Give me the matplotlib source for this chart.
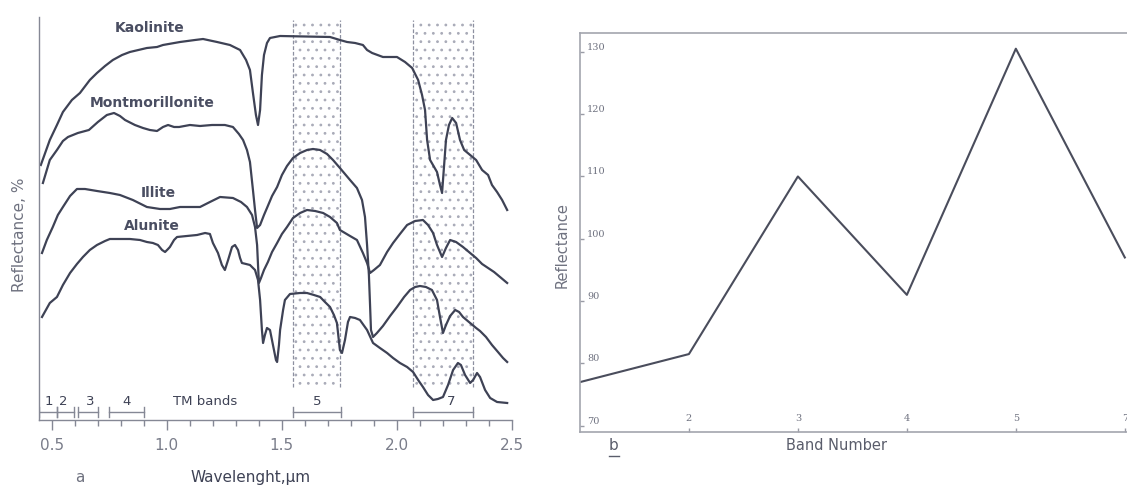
import matplotlib
matplotlib.use("Agg")
import matplotlib.pyplot as plt
from matplotlib.patches import Rectangle
from matplotlib.lines import Line2D

plt.rcParams["hatch.linewidth"] = 0.8

# ---- panel a: clay mineral spectra (relative reflectance, curves are offset) ----
kaol_wl = [0.453, 0.492, 0.523, 0.549, 0.588, 0.623, 0.666, 0.697, 0.732, 0.766, 0.806, 0.840,
           0.914, 0.958, 0.984, 1.058, 1.123, 1.158, 1.219, 1.275, 1.319, 1.345, 1.362, 1.375,
           1.388, 1.397, 1.406, 1.414, 1.423, 1.436, 1.449, 1.493, 1.710, 1.753, 1.784, 1.819,
           1.853, 1.871, 1.893, 1.940, 2.001, 2.036, 2.067, 2.093, 2.110, 2.123, 2.132, 2.145,
           2.175, 2.188, 2.197, 2.206, 2.214, 2.227, 2.241, 2.258, 2.275, 2.293, 2.319, 2.345,
           2.371, 2.397, 2.414, 2.436, 2.458, 2.480]
kaol_r = [63.75, 70, 73.75, 77, 80, 81.75, 85, 86.75, 88.5, 90, 91.25, 92,
          93, 93.25, 93.75, 94.5, 95, 95.25, 94.5, 93.75, 92.5, 90, 87.5, 81.75,
          76.25, 73.75, 77.5, 86.25, 91.25, 94.25, 95.5, 96, 95.75, 95, 94.5, 94.25,
          93.75, 92.5, 91.75, 90.75, 90.75, 89.5, 88, 85, 81.25, 77.5, 70, 65,
          62, 58.75, 56.75, 63.75, 70, 73.75, 75.5, 74.25, 70, 67.5, 66.25, 65,
          62.5, 61.25, 58.75, 57, 55, 52.5]

mont_wl = [0.462, 0.492, 0.523, 0.549, 0.571, 0.614, 0.662, 0.701, 0.740, 0.771, 0.797, 0.819,
           0.862, 0.897, 0.927, 0.958, 0.984, 1.006, 1.032, 1.054, 1.101, 1.145, 1.197, 1.253,
           1.288, 1.314, 1.332, 1.349, 1.362, 1.375, 1.384, 1.393, 1.406, 1.423, 1.436, 1.458,
           1.480, 1.501, 1.523, 1.549, 1.580, 1.610, 1.636, 1.667, 1.697, 1.723, 1.753, 1.797,
           1.827, 1.849, 1.862, 1.871, 1.879, 1.884, 1.888, 1.897, 1.914, 1.940, 1.971, 2.001,
           2.032, 2.058, 2.080, 2.101, 2.127, 2.153, 2.175, 2.188, 2.201, 2.214, 2.232, 2.254,
           2.271, 2.288, 2.319, 2.345, 2.362, 2.388, 2.414, 2.440, 2.462, 2.480]
mont_r = [59.25, 65, 67.5, 69.75, 70.75, 71.75, 72.5, 74.5, 76.25, 76.75, 76, 75,
          73.75, 73, 72.5, 72.25, 73.25, 73.75, 73.25, 73.25, 73.75, 73.5, 73.75, 73.75,
          73.25, 71.5, 70, 67.5, 64.5, 57.5, 52.5, 48, 48.75, 51.25, 53, 56,
          58.25, 61.25, 63.5, 65.5, 66.75, 67.5, 67.75, 67.5, 66.5, 65, 63, 60,
          58, 55, 50.75, 43.75, 36.25, 28.75, 22.5, 20.75, 21.75, 23.5, 26, 28.25,
          30.75, 32.5, 33.25, 33.5, 33.25, 32.5, 30, 25.75, 21.75, 23.75, 26, 27.5,
          27, 25.75, 24.25, 23, 22.25, 20.75, 18.75, 17, 15.5, 14.5]

illi_wl = [0.458, 0.479, 0.505, 0.527, 0.549, 0.580, 0.610, 0.645, 0.697, 0.753, 0.797, 0.853,
           0.914, 0.971, 1.014, 1.058, 1.101, 1.145, 1.188, 1.232, 1.288, 1.323, 1.349, 1.371,
           1.384, 1.393, 1.397, 1.401, 1.410, 1.423, 1.440, 1.458, 1.480, 1.501, 1.523, 1.549,
           1.580, 1.610, 1.645, 1.680, 1.710, 1.740, 1.753, 1.797, 1.827, 1.853, 1.871, 1.884,
           1.901, 1.927, 1.958, 1.984, 2.014, 2.045, 2.080, 2.114, 2.136, 2.158, 2.175, 2.197,
           2.214, 2.232, 2.258, 2.288, 2.319, 2.345, 2.371, 2.397, 2.423, 2.449, 2.480]
illi_r = [41.75, 45, 48.25, 51.25, 53.25, 56, 57.75, 57.75, 57.25, 56.75, 56.25, 55,
          53.25, 52.75, 52.75, 53.25, 53.25, 53.25, 54.5, 55.75, 55.5, 54.5, 53.25, 51.25,
          48.25, 43.75, 38.75, 34.25, 35.5, 37.5, 39.5, 42, 44.25, 46.5, 48.25, 50.5,
          51.75, 52.5, 52.25, 51.75, 50.75, 49.25, 47.5, 46, 45, 41.75, 39.25, 36.75,
          37.5, 38.75, 42, 44.25, 46.5, 48.75, 49.75, 50, 48.75, 46.75, 43.75, 40.75,
          43, 45, 44.5, 43.25, 41.75, 40.5, 39, 38, 37, 35.75, 34.25]

alun_wl = [0.458, 0.492, 0.523, 0.549, 0.580, 0.610, 0.636, 0.666, 0.697, 0.732, 0.753, 0.797,
           0.840, 0.884, 0.914, 0.940, 0.962, 0.980, 0.993, 1.006, 1.014, 1.032, 1.045, 1.088,
           1.132, 1.167, 1.188, 1.201, 1.223, 1.240, 1.253, 1.267, 1.284, 1.297, 1.310, 1.319,
           1.327, 1.345, 1.362, 1.384, 1.397, 1.406, 1.414, 1.419, 1.427, 1.436, 1.449, 1.462,
           1.475, 1.480, 1.488, 1.493, 1.506, 1.514, 1.536, 1.580, 1.610, 1.640, 1.667, 1.688,
           1.710, 1.727, 1.740, 1.753, 1.762, 1.775, 1.788, 1.797, 1.819, 1.840, 1.871, 1.897,
           1.927, 1.958, 1.984, 2.014, 2.045, 2.071, 2.093, 2.114, 2.136, 2.158, 2.179, 2.201,
           2.223, 2.245, 2.266, 2.279, 2.297, 2.319, 2.332, 2.349, 2.362, 2.384, 2.406, 2.436,
           2.480]
alun_r = [25.75, 29.25, 30.75, 33.75, 36.75, 39, 40.75, 42.5, 43.75, 44.75, 45.25, 45.25,
          45.25, 45, 44.5, 44.25, 43.75, 42.5, 42, 42.75, 43.25, 45, 45.75, 46,
          46.25, 46.75, 46.5, 44.25, 41.75, 38.75, 37.5, 40, 43.25, 43.75, 42.5, 40.5,
          39.25, 39, 38.75, 37.5, 35, 30, 22.5, 19.25, 21.25, 23, 22.5, 18.75,
          15, 14.5, 18.75, 22.5, 27.5, 30, 31.5, 31.75, 31.75, 31.25, 30.75, 29.5,
          28.25, 26.25, 24.25, 17.5, 16.75, 20, 24.5, 25.75, 25.5, 25, 22.5, 19.25,
          18, 16.75, 15.5, 14.25, 13.25, 12, 10, 8.25, 6.25, 5, 5.25, 5.75,
          8.75, 12.5, 14.25, 13.75, 11.25, 9.25, 10, 11.75, 10.75, 7.5, 5.5, 4.5,
          4.25]

mineral_names = ["Kaolinite", "Montmorillonite", "Illite", "Alunite"]
label_wl = [0.927, 0.936, 0.962, 0.936]
label_r = [98, 79.25, 56.75, 48.5]

# Landsat TM bands: start, end, label
tm_start = [0.446, 0.522, 0.613, 0.749, 1.548, 2.070]
tm_end = [0.522, 0.597, 0.700, 0.900, 1.758, 2.333]
tm_names = ["1", "2", "3", "4", "5", "7"]
tm_label_wl = [0.488, 0.549, 0.666, 0.827, 1.653, 2.236]
shaded_bands = [(1.548, 1.752), (2.070, 2.333)]

# ---- panel b: reflectance by band number ----
band_labels = ["1", "2", "3", "4", "5", "7"]
band_refl = [77, 81.5, 110, 91, 130.5, 97]

ink = "#3e4255"
grey = "#858895"

fig = plt.figure(figsize=(11.27, 4.87), dpi=100)

# panel a
ax = fig.add_axes([0.0346, 0.1376, 0.4195, 0.8275])
for x0, x1 in shaded_bands:
    ax.add_patch(Rectangle((x0, 8.25), x1 - x0, 91.75, facecolor="none",
                           edgecolor="#a9abb8", linewidth=0, hatch=".."))
    for xe in (x0, x1):
        ax.plot([xe, xe], [8.25, 100], color="#8d90a0", lw=0.9, ls=(0, (3, 1.5)))

for wl, r in [(kaol_wl, kaol_r), (mont_wl, mont_r), (illi_wl, illi_r), (alun_wl, alun_r)]:
    ax.plot(wl, r, color=ink, lw=1.6, solid_joinstyle="round")
for name, x, y in zip(mineral_names, label_wl, label_r):
    ax.text(x, y, name, ha="center", va="center", fontsize=10, fontweight="bold",
            color="#4a4e62")

for x0, x1 in zip(tm_start, tm_end):
    ax.plot([x0, x1], [2, 2], color=grey, lw=1)
    ax.plot([x0, x0], [0.8, 3.2], color=grey, lw=1)
    ax.plot([x1, x1], [0.8, 3.2], color=grey, lw=1)
for name, x in zip(tm_names, tm_label_wl):
    ax.text(x, 4.6, name, ha="center", va="center", fontsize=9.5, color=ink)
ax.text(1.166, 4.6, "TM bands", ha="center", va="center", fontsize=9.5, color=ink)

ax.set_xlim(0.445, 2.5)
ax.set_ylim(0, 100.75)
ax.set_yticks([])
ax.set_xticks([0.5, 1.0, 1.5, 2.0, 2.5])
ax.set_xticklabels(["0.5", "1.0", "1.5", "2.0", "2.5"])
ax.set_xticks([0.6, 0.7, 0.8, 0.9, 1.1, 1.2, 1.3, 1.4, 1.6, 1.7, 1.8, 1.9,
               2.1, 2.2, 2.3, 2.4], minor=True)
ax.tick_params(axis="x", which="major", length=7, width=1, color=grey,
               labelsize=11, labelcolor="#7a7d8a", pad=6)
ax.tick_params(axis="x", which="minor", length=4, width=1, color=grey)
for s in ("top", "right"):
    ax.spines[s].set_visible(False)
for s in ("left", "bottom"):
    ax.spines[s].set_color(grey)
    ax.spines[s].set_linewidth(1)

fig.text(0.0177, 0.517, "Reflectance, %", rotation=90, ha="center", va="center",
         fontsize=11, color="#6f7280")
fig.text(0.222, 0.0185, "Wavelenght,\u00b5m", ha="center", va="center",
         fontsize=11, color=ink)
fig.text(0.071, 0.0185, "a", ha="center", va="center", fontsize=11, color="#6f7280")

# panel b
bx = fig.add_axes([0.5146, 0.113, 0.4854, 0.819])
bx.plot(range(len(band_refl)), band_refl, color="#4a4d5c", lw=1.5)
bx.set_xlim(0, 5.02)
bx.set_ylim(69, 133)
bx.set_xticks([1, 2, 3, 4, 5])
bx.set_xticklabels(band_labels[1:])
bx.set_yticks([70, 80, 90, 100, 110, 120, 130])
bx.tick_params(axis="y", direction="in", length=3, width=1, color="#9a9ca6",
               labelsize=7, labelcolor="#6f7280", pad=-5)
bx.tick_params(axis="x", direction="in", length=3, width=1, color="#9a9ca6",
               labelsize=7, labelcolor="#6f7280", pad=-13)
for lab in bx.get_yticklabels():
    lab.set_horizontalalignment("left")
    lab.set_verticalalignment("bottom")
    lab.set_family("DejaVu Serif")
for lab in bx.get_xticklabels():
    lab.set_family("DejaVu Serif")
bx.spines["right"].set_visible(False)
for s in ("top", "left", "bottom"):
    bx.spines[s].set_color("#a3a5ae")
    bx.spines[s].set_linewidth(1.2)

fig.text(0.4987, 0.497, "Reflectance", rotation=90, ha="center", va="center",
         fontsize=10.5, color="#6f7280")
fig.text(0.7418, 0.0862, "Band Number", ha="center", va="center",
         fontsize=10.5, color="#5a5d6b")
fig.text(0.5448, 0.0862, "b", ha="center", va="center", fontsize=11, color="#5a5d6b")
fig.add_artist(Line2D([0.5405, 0.549], [0.063, 0.063], transform=fig.transFigure,
                      color="#5a5d6b", lw=1))

fig.savefig("out.png", dpi=100, facecolor="white")
